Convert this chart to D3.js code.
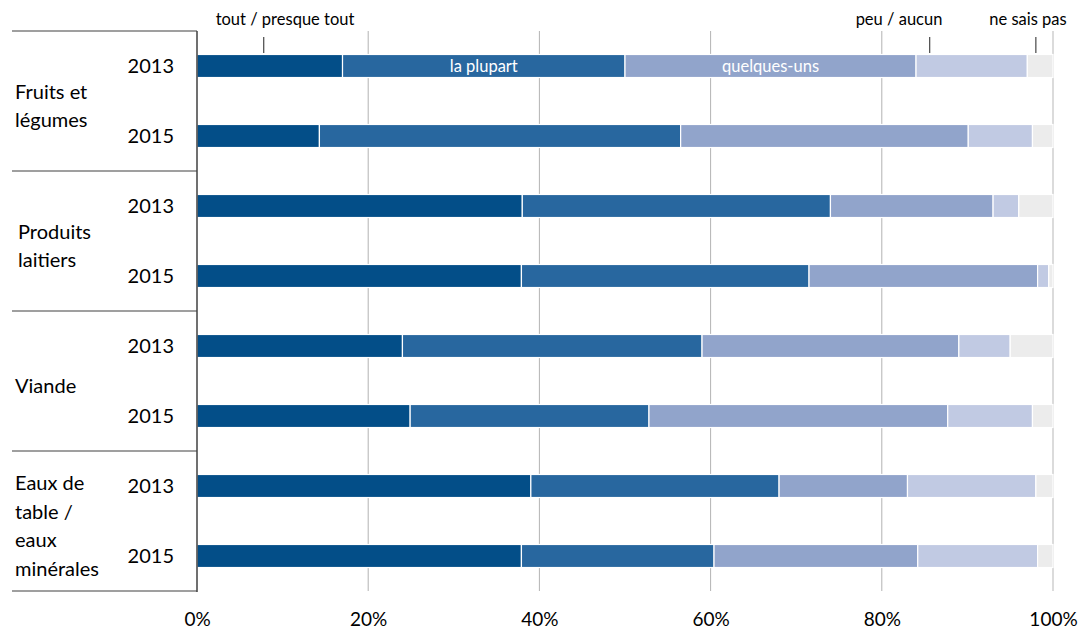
<!DOCTYPE html>
<html>
<head>
<meta charset="utf-8">
<script src="https://cdn.jsdelivr.net/npm/d3@7"></script>
<style>
  body { margin: 0; background: #fff; }
  text { font-family: Lato, "Open Sans", sans-serif; fill: #000; }
</style>
</head>
<body>
<div id="chart"></div>
<script>
const categories = [
  ["Fruits et", "légumes"],
  ["Produits", "laitiers"],
  ["Viande"],
  ["Eaux de", "table /", "eaux", "minérales"]
];
const years = ["2013", "2015"];
const answers = ["tout / presque tout", "la plupart", "quelques-uns", "peu / aucun", "ne sais pas"];
const colors = ["#034e88", "#28679f", "#91a4cb", "#c1cae3", "#ececec"];

// one row per category x year, shares in %
const toutPresqueTout = [17.0, 14.3, 38.0, 37.9, 24.0, 24.9, 39.0, 37.9];
const laPlupart       = [33.0, 42.2, 36.0, 33.6, 35.0, 27.9, 29.0, 22.5];
const quelquesUns     = [34.0, 33.6, 19.0, 26.7, 30.0, 34.9, 15.0, 23.8];
const peuAucun        = [13.0,  7.5,  3.0,  1.3,  6.0,  9.9, 15.0, 14.0];
const neSaisPas       = [ 3.0,  2.4,  4.0,  0.5,  5.0,  2.4,  2.0,  1.8];

const xTicks = [0, 20, 40, 60, 80, 100];
// callouts above the first bar: [label, tick position in %]
const callouts = [["tout / presque tout", 7.8], ["peu / aucun", 85.6], ["ne sais pas", 98.0]];
const inBarLabels = [1, 2]; // series labelled inside first bar

const width = 1080, height = 629;
const series = [toutPresqueTout, laPlupart, quelquesUns, peuAucun, neSaisPas];
const rows = [];
categories.forEach((c, ci) => years.forEach((yr, yi) => {
  const i = ci * 2 + yi;
  const r = { key: ci + "-" + yr, cat: ci, year: yr };
  answers.forEach((a, k) => r[a] = series[k][i]);
  rows.push(r);
}));

const svg = d3.select("#chart").append("svg").attr("width", width).attr("height", height);

const plotTop = 31, plotBottom = 591;
const x = d3.scaleLinear().domain([0, 100]).range([197, 1053]);
const y = d3.scaleBand().domain(rows.map(d => d.key)).range([plotTop, plotBottom])
  .paddingInner(0.671).paddingOuter(0.3355);

// gridlines
svg.append("g").selectAll("line").data(xTicks.slice(1)).join("line")
  .attr("x1", d => x(d)).attr("x2", d => x(d)).attr("y1", plotTop).attr("y2", plotBottom)
  .attr("stroke", d => d === 100 ? "#cfcfcf" : "#b3b3b3").attr("stroke-width", d => d === 100 ? 1.5 : 1);

const stack = d3.stack().keys(answers)(rows);
svg.append("g").selectAll("g").data(stack).join("g")
  .attr("fill", (d, i) => colors[i])
  .selectAll("rect").data(d => d).join("rect")
  .attr("x", d => x(d[0])).attr("width", d => x(d[1]) - x(d[0]))
  .attr("y", d => y(d.data.key)).attr("height", y.bandwidth())
  .attr("stroke", "#fff").attr("stroke-width", 1.2);

// labels inside first bar
inBarLabels.forEach(k => {
  const seg = stack[k][0];
  svg.append("text").attr("x", (x(seg[0]) + x(seg[1])) / 2)
    .attr("y", y(rows[0].key) + y.bandwidth() / 2 + 6)
    .attr("text-anchor", "middle").style("fill", "#fff").style("font-size", "16.5px")
    .text(answers[k]);
});

// callouts
const textX = { "tout / presque tout": 285, "peu / aucun": 899, "ne sais pas": 1028 };
callouts.forEach(([lab, v]) => {
  svg.append("text").attr("x", textX[lab]).attr("y", 25).attr("text-anchor", "middle")
    .style("font-size", "16.5px").text(lab);
  svg.append("line").attr("x1", x(v)).attr("x2", x(v)).attr("y1", 37).attr("y2", 53)
    .attr("stroke", "#222").attr("stroke-width", 1);
});

// left axis and category separators
svg.append("line").attr("x1", 197).attr("x2", 197).attr("y1", plotTop).attr("y2", plotBottom + 1)
  .attr("stroke", "#404040").attr("stroke-width", 1.5);
const seps = d3.range(categories.length + 1).map(i => plotTop + i * (plotBottom - plotTop) / categories.length);
svg.append("g").selectAll("line").data(seps).join("line")
  .attr("x1", 12).attr("x2", 197).attr("y1", d => d).attr("y2", d => d)
  .attr("stroke", "#404040").attr("stroke-width", 1.2);

// year labels
svg.append("g").selectAll("text").data(rows).join("text")
  .attr("x", 174).attr("y", d => y(d.key) + y.bandwidth() / 2 + 7)
  .attr("text-anchor", "end").style("font-size", "20px").text(d => d.year);

// category labels
categories.forEach((lines, ci) => {
  const mid = y(rows[ci * 2].key) / 2 + y(rows[ci * 2 + 1].key) / 2 + y.bandwidth() / 2;
  const lh = 28.5;
  const t = svg.append("text").style("font-size", "20px");
  lines.forEach((l, li) => {
    t.append("tspan").attr("x", ci === 1 ? 18 : 15)
      .attr("y", mid + 12 + (li - (lines.length - 1) / 2) * lh).text(l);
  });
});

// x axis
const ax = svg.append("g").attr("transform", `translate(0,${plotBottom})`)
  .call(d3.axisBottom(x).tickValues(xTicks).tickSize(0).tickPadding(22).tickFormat(d => d + "%"));
ax.select(".domain").remove();
ax.selectAll("text").style("font-size", "19px").style("font-family", "Lato, sans-serif").attr("fill", "#000");
</script>
</body>
</html>
